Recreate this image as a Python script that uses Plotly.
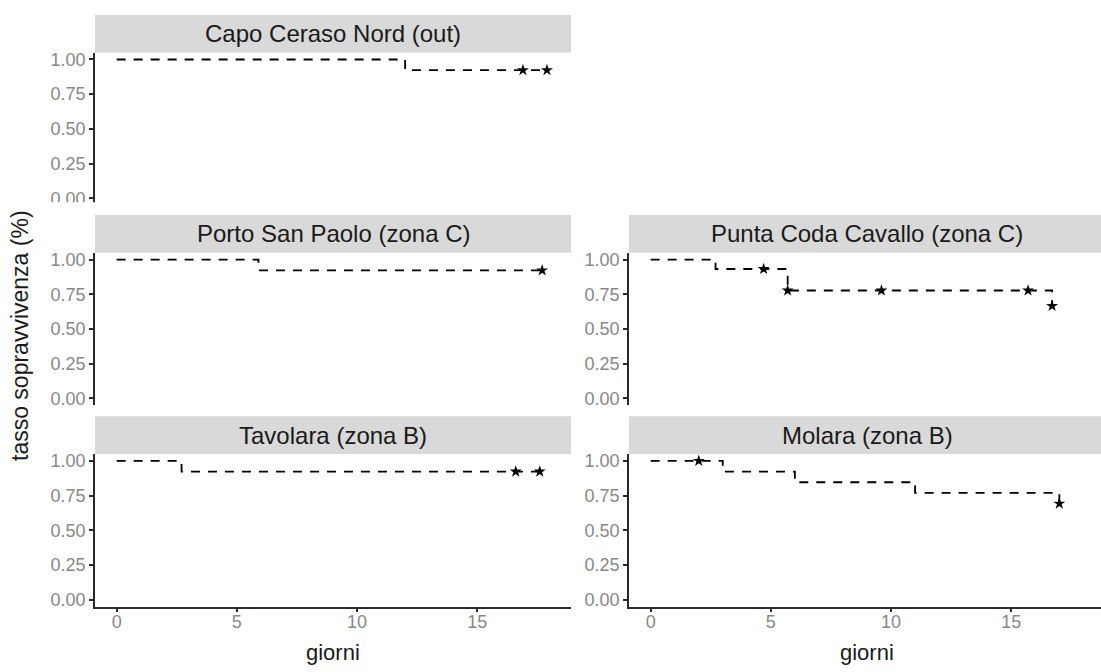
import plotly.graph_objects as go

# ---------------- data ----------------
panels = ["Capo Ceraso Nord (out)", "Porto San Paolo (zona C)", "Punta Coda Cavallo (zona C)",
          "Tavolara (zona B)", "Molara (zona B)"]

capo_t = [0, 12.0, 17.9]
capo_s = [1.0, 0.923, 0.923]
capo_ct = [16.9, 17.9]
capo_cs = [0.923, 0.923]

porto_t = [0, 5.9, 17.7]
porto_s = [1.0, 0.923, 0.923]
porto_ct = [17.7]
porto_cs = [0.923]

punta_t = [0, 2.7, 5.7, 16.7]
punta_s = [1.0, 0.933, 0.778, 0.667]
punta_ct = [4.7, 5.7, 9.6, 15.7, 16.7]
punta_cs = [0.933, 0.778, 0.778, 0.778, 0.667]

tavo_t = [0, 2.7, 17.6]
tavo_s = [1.0, 0.923, 0.923]
tavo_ct = [16.6, 17.6]
tavo_cs = [0.923, 0.923]

mola_t = [0, 2.0, 3.0, 6.0, 11.0, 17.0]
mola_s = [1.0, 1.0, 0.923, 0.846, 0.769, 0.692]
mola_ct = [2.0, 17.0]
mola_cs = [1.0, 0.692]

y_ticks = [0, 0.25, 0.5, 0.75, 1.0]
y_ticklabels = ["0.00", "0.25", "0.50", "0.75", "1.00"]
x_ticks = [0, 5, 10, 15]
x_ticklabels = ["0", "5", "10", "15"]

# ---------------- layout geometry (pixels) ----------------
W, H = 1101, 672
def px(x):
    return x / W
def py(y):
    return 1 - y / H

left_dom = [px(95), px(571)]
right_dom = [px(629), 1.0]
rows = {1: (50, 204), 2: (252, 406), 3: (455, 609)}
strip_h = 38

ppd = 476 / 19.8  # pixels per day
left_range = [-0.9, 18.9]
right_range = [-0.9, -0.9 + (W - 629) / ppd]

series = [
    (capo_t, capo_s, capo_ct, capo_cs, 1, "L"),
    (porto_t, porto_s, porto_ct, porto_cs, 2, "L"),
    (punta_t, punta_s, punta_ct, punta_cs, 2, "R"),
    (tavo_t, tavo_s, tavo_ct, tavo_cs, 3, "L"),
    (mola_t, mola_s, mola_ct, mola_cs, 3, "R"),
]

FONT = "Liberation Sans, Arial, sans-serif"
fig = go.Figure()
layout = dict(width=W, height=H, margin=dict(l=0, r=0, t=0, b=0),
              paper_bgcolor="white", plot_bgcolor="white", showlegend=False,
              font=dict(family=FONT))
shapes = []
annotations = []

axis_color = "#2a2a2a"
tick_font = dict(size=18, color="#888888", family=FONT)

for i, (t, s, ct, cs, row, col) in enumerate(series):
    k = i + 1
    xa = "x" if k == 1 else f"x{k}"
    ya = "y" if k == 1 else f"y{k}"
    fig.add_trace(go.Scatter(x=t, y=s, mode="lines", line_shape="hv",
                             line=dict(color="black", width=1.8, dash="9px,8px"),
                             xaxis=xa, yaxis=ya, hoverinfo="skip"))
    fig.add_trace(go.Scatter(x=ct, y=cs, mode="markers",
                             marker=dict(symbol="star", size=9, color="black",
                                         line=dict(width=0)),
                             xaxis=xa, yaxis=ya, hoverinfo="skip"))
    top, bot = rows[row]
    dom = left_dom if col == "L" else right_dom
    rng = left_range if col == "L" else right_range
    show_x = row == 3
    layout["xaxis" if k == 1 else f"xaxis{k}"] = dict(
        domain=dom, range=rng, anchor=ya, showgrid=False, zeroline=False,
        showline=show_x, linecolor=axis_color, linewidth=1.6,
        ticks="outside" if show_x else "", ticklen=4, tickwidth=1.6, tickcolor=axis_color,
        tickvals=x_ticks if show_x else [], ticktext=x_ticklabels if show_x else [],
        showticklabels=show_x, tickfont=tick_font, fixedrange=True,
        ticklabelstandoff=-6,
    )
    layout["yaxis" if k == 1 else f"yaxis{k}"] = dict(
        domain=[py(bot), py(top)], range=[-0.05, 1.05], anchor=xa, showgrid=False,
        zeroline=False, showline=True, linecolor=axis_color, linewidth=1.6,
        ticks="outside", ticklen=4, tickwidth=1.6, tickcolor=axis_color,
        tickvals=y_ticks, ticktext=y_ticklabels, tickfont=tick_font, fixedrange=True,
    )
    # strip
    x0 = 95 if col == "L" else 629
    x1 = 571 if col == "L" else W + 5
    shapes.append(dict(type="rect", xref="paper", yref="paper",
                       x0=px(x0), x1=px(x1), y0=py(top), y1=py(top - strip_h),
                       fillcolor="#D9D9D9", line=dict(width=0), layer="below"))
    cx = (95 + 571) / 2 if col == "L" else (629 + 1105) / 2
    annotations.append(dict(text=panels[i], xref="paper", yref="paper",
                            x=px(cx), y=py(top - strip_h / 2), showarrow=False,
                            xanchor="center", yanchor="middle",
                            font=dict(size=24, color="#1a1a1a")))

# clip of the top panel bottom (as in the reference)
shapes.append(dict(type="rect", xref="paper", yref="paper", x0=0, x1=px(120),
                   y0=py(212), y1=py(201), fillcolor="white", line=dict(width=0),
                   layer="above"))

# axis titles
for cx in [(95 + 571) / 2, (629 + 1105) / 2]:
    annotations.append(dict(text="giorni", xref="paper", yref="paper", x=px(cx), y=py(655),
                            showarrow=False, xanchor="center", yanchor="middle",
                            font=dict(size=22, color="#1a1a1a")))
annotations.append(dict(text="tasso sopravvivenza (%)", xref="paper", yref="paper",
                        x=px(20), y=py(336), showarrow=False, textangle=-90,
                        xanchor="center", yanchor="middle",
                        font=dict(size=23, color="#1a1a1a")))

layout["shapes"] = shapes
layout["annotations"] = annotations
fig.update_layout(**layout)
fig.write_html("out.html")
